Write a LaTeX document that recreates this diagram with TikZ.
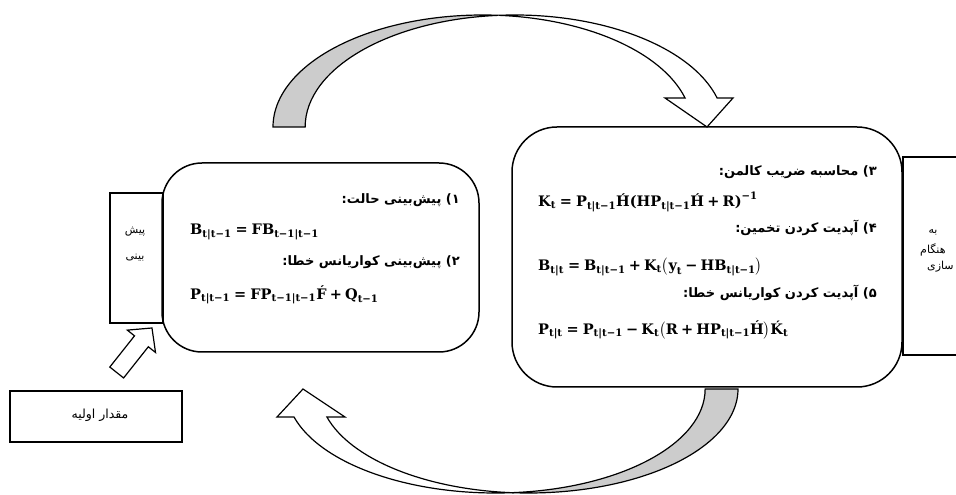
\documentclass[tikz,border=0pt]{standalone}
\usepackage{amsmath}
\usepackage{fontspec}
\newfontfamily\fafont[Script=Arabic]{DejaVu Sans}
\newfontfamily\eqfont{DejaVu Serif}
\TeXXeTstate=1
\newcommand\MB[1]{\text{\eqfont\bfseries #1}}
\newcommand\EQ{\mathrel{\MB{=}}}
\newcommand\PL{\mathbin{\MB{+}}}
\newcommand\MI{\mathbin{\MB{−}}}
\begin{document}
\begin{tikzpicture}[x=1pt,y=1pt,
  rbox/.style={draw, line width=1.5pt, rounded corners=40pt, inner sep=0pt},
  sbox/.style={draw, line width=1.5pt, inner sep=0pt},
  fa/.style={font=\fafont\bfseries\fontsize{13}{15}\selectfont, inner sep=0pt, anchor=east},
  fasmall/.style={font=\fafont\fontsize{11}{13}\selectfont, inner sep=0pt},
  eq/.style={font=\fontsize{14.5}{16}\selectfont, inner sep=0pt, anchor=west},
  band/.style={draw, line width=1.2pt, line join=miter}]
\useasboundingbox (0,0) rectangle (956,495);
\clip (0,0) rectangle (956,495);

% curved block arrows
\filldraw[band, fill=gray!40] (273,368)
  arc[start angle=180, end angle=85.6, x radius=209.6, y radius=112]
  arc[start angle=94.4, end angle=180, x radius=209.6, y radius=112] -- cycle;
\filldraw[band, fill=white] (498.6,479.67)
  arc[start angle=94.4, end angle=15, x radius=209.6, y radius=112]
  -- (733,397) -- (707,368) -- (665,397) -- (685.06,397)
  arc[start angle=15, end angle=85.6, x radius=209.6, y radius=112] -- cycle;

\filldraw[band, fill=gray!40] (738,106)
  arc[start angle=0, end angle=-94.5, x radius=209.4, y radius=104]
  arc[start angle=-85.5, end angle=0, x radius=209.4, y radius=104] -- cycle;
\filldraw[band, fill=white] (512.1,2.32)
  arc[start angle=-85.5, end angle=-164.4, x radius=209.4, y radius=104]
  -- (277,78) -- (303,106) -- (345,78) -- (326.9,78)
  arc[start angle=-164.4, end angle=-94.5, x radius=209.4, y radius=104] -- cycle;

% boxes
\node[sbox, minimum width=53, minimum height=130] (pred) at (136.5,237) {};
\node[sbox, minimum width=107, minimum height=198] (upd) at (956.5,239) {};
\node[sbox, minimum width=172, minimum height=51] (init) at (96,78.5) {};
\node[rbox, minimum width=317, minimum height=189] (left) at (320.5,237.5) {};
\node[rbox, rounded corners=45pt, minimum width=390, minimum height=260] (right) at (707,238) {};

% hollow arrow from init to pred
\begin{scope}[shift={(116.7,122.5)}, rotate=51.6]
\draw[band, fill=white] (0,-8.8) -- (39.8,-8.8) -- (39.8,-18) -- (56.8,0)
  -- (39.8,18) -- (39.8,8.8) -- (0,8.8) -- cycle;
\end{scope}

% small box texts
\node[fasmall] (predA) at (135,263) {\beginR پیش\endR};
\node[fasmall] (predB) at (135,237) {\beginR بینی\endR};
\node[fasmall] (updA) at (933,263) {\beginR به\endR};
\node[fasmall, anchor=west] (updB) at (920,245) {\beginR هنگام\endR};
\node[fasmall, anchor=west] (updC) at (927,228) {\beginR سازی\endR};
\node[fasmall, font=\fafont\fontsize{12.5}{14}\selectfont] (initT) at (100,80) {\beginR مقدار اولیه\endR};

% left box content
\node[fa] (h1) at (460,295) {\beginR ۱) پیش^^^^200cبینی حالت:\endR};
\node[eq] (m1) at (190,263) {$\MB{B}_{\MB{t|t−1}}\EQ\MB{FB}_{\MB{t−1|t−1}}$};
\node[fa] (h2) at (460,233) {\beginR ۲) پیش^^^^200cبینی کواریانس خطا:\endR};
\node[eq] (m2) at (190,200) {$\MB{P}_{\MB{t|t−1}}\EQ\MB{FP}_{\MB{t−1|t−1}}\MB{F^^^^0301}\PL\MB{Q}_{\MB{t−1}}$};

% right box content
\node[fa] (h3) at (877,323) {\beginR ۳) محاسبه ضریب کالمن:\endR};
\node[eq] (m3) at (538,293) {$\MB{K}_{\MB{t}}\EQ\MB{P}_{\MB{t|t−1}}\MB{H^^^^0301(HP}_{\MB{t|t−1}}\MB{H^^^^0301}\PL\MB{R)}^{\MB{−1}}$};
\node[fa] (h4) at (877,267) {\beginR ۴) آپدیت کردن تخمین:\endR};
\node[eq] (m4) at (538,228) {$\MB{B}_{\MB{t|t}}\EQ\MB{B}_{\MB{t|t−1}}\PL\MB{K}_{\MB{t}}\bigl(\MB{y}_{\MB{t}}\MI\MB{HB}_{\MB{t|t−1}}\bigr)$};
\node[fa] (h5) at (877,202) {\beginR ۵) آپدیت کردن کواریانس خطا:\endR};
\node[eq] (m5) at (538,165) {$\MB{P}_{\MB{t|t}}\EQ\MB{P}_{\MB{t|t−1}}\MI\MB{K}_{\MB{t}}\bigl(\MB{R}\PL\MB{HP}_{\MB{t|t−1}}\MB{H^^^^0301}\bigr)\MB{K^^^^0301}_{\MB{t}}$};
\end{tikzpicture}
\end{document}
